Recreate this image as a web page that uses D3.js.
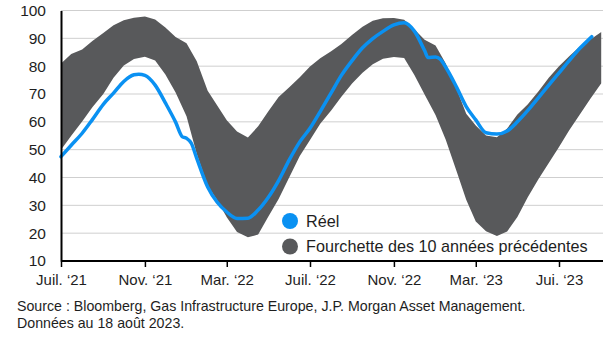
<!DOCTYPE html>
<html><head><meta charset="utf-8">
<script src="https://cdn.jsdelivr.net/npm/d3@7"></script>
<style>
html,body{margin:0;padding:0;background:#fff;}
svg{display:block;font-family:"Liberation Sans",Arial,sans-serif;}
</style></head>
<body>
<svg id="chart" width="611" height="338"></svg>
<script>
// ---- data ----
const bandDates = ["2021-07-01","2021-07-16","2021-08-01","2021-08-16","2021-09-01","2021-09-16","2021-10-01","2021-10-16","2021-11-01","2021-11-16","2021-12-01","2021-12-16","2022-01-01","2022-01-16","2022-02-01","2022-02-15","2022-03-01","2022-03-16","2022-04-01","2022-04-16","2022-05-01","2022-05-16","2022-06-01","2022-06-16","2022-07-01","2022-07-16","2022-08-01","2022-08-16","2022-09-01","2022-09-16","2022-10-01","2022-10-16","2022-11-01","2022-11-16","2022-12-01","2022-12-16","2023-01-01","2023-01-16","2023-02-01","2023-02-15","2023-03-01","2023-03-16","2023-04-01","2023-04-16","2023-05-01","2023-05-16","2023-06-01","2023-06-16","2023-07-01","2023-07-16","2023-08-01","2023-08-16","2023-09-01"];
const bandMax = [81,84.4,86,89,91.9,94.7,96.5,97.4,97.8,96.8,93.9,90.5,88.2,81.8,71.2,65.9,60.6,56.5,54.4,58.4,63.8,68.9,72.5,76,79.9,82.8,85.4,88,91.3,94.2,96.3,97.2,97.3,96.7,93.3,89.5,87.4,81,71.8,62.9,58.7,55.1,54.5,57.6,62.6,66.2,71,75.8,80,83.6,87.2,89.6,92.3];
const bandMin = [50,55,60.1,65.2,70,75.8,80.2,82.6,83.4,82,77,70.5,62,48.4,37,31.8,25.7,20.4,18.5,19.5,26,32.3,40.3,47.7,53.5,59.3,64.1,69,73.9,77.6,80.7,82.7,83.3,82.9,76.8,69.8,62.5,53.6,42.2,32,24.2,20.7,19,20.6,25.8,32.8,39.5,45.2,51,57,62.8,68.3,73.9];
const reelDates = ["2021-07-01","2021-07-16","2021-08-01","2021-08-16","2021-09-01","2021-09-16","2021-10-01","2021-10-16","2021-10-23","2021-11-01","2021-11-16","2021-12-01","2021-12-16","2021-12-26","2022-01-01","2022-01-08","2022-01-16","2022-02-01","2022-02-15","2022-03-01","2022-03-16","2022-04-01","2022-04-16","2022-05-01","2022-05-16","2022-06-01","2022-06-16","2022-07-01","2022-07-16","2022-08-01","2022-08-16","2022-09-01","2022-09-16","2022-10-01","2022-10-16","2022-11-01","2022-11-16","2022-12-01","2022-12-16","2022-12-21","2023-01-01","2023-01-08","2023-01-16","2023-02-01","2023-02-15","2023-03-01","2023-03-16","2023-04-01","2023-04-16","2023-05-01","2023-05-16","2023-06-01","2023-06-16","2023-07-01","2023-07-16","2023-08-01","2023-08-16","2023-08-18"];
const reelValues = [47.5,51.6,55.9,60.8,66.3,70.3,74.5,76.9,77.1,76.7,73.2,66.8,59.9,54.6,54.1,52.3,46.9,36.6,31.1,27.6,25.3,25.4,28.3,32.9,38.9,46.5,52.8,57.7,63.7,70.4,76.7,82.1,86.6,89.9,92.5,94.8,95.6,92.6,85.6,83.1,83.3,82.5,79.6,72.4,65.5,60.7,56.1,55.6,56.7,60,64,68.7,73.2,77.6,82,86.5,90.1,90.6];
const xTickDates = ["2021-07-01","2021-11-01","2022-03-01","2022-07-01","2022-11-01","2023-03-01","2023-07-01"];
const xTickLabels = ["Juil. \u201821","Nov. \u201821","Mar. \u201822","Juil. \u201822","Nov. \u201822","Mar. \u201823","Jui. \u201823"];
const yTicks = [10,20,30,40,50,60,70,80,90,100];
const legendLabels = ["Réel","Fourchette des 10 années précédentes"];
const sourceLines = ["Source : Bloomberg, Gas Infrastructure Europe, J.P. Morgan Asset Management.","Données au 18 août 2023."];

// ---- chart ----
(function () {
const parse = d3.utcParse("%Y-%m-%d");
const svg = d3.select("#chart");
const blue = "#0a91f2", gray = "#58595b", textCol = "#1e1e1e";
const mLeft = 61, mRight = 603, mTop = 10.5, mBottom = 261;

const x = d3.scaleUtc().domain([parse("2021-07-01"), parse("2023-07-01")]).range([mLeft, 559]);
const y = d3.scaleLinear().domain([10, 100]).range([mBottom, mTop]);

// gridlines
svg.append("g").selectAll("line").data(yTicks.filter(v => v > 10)).join("line")
  .attr("x1", mLeft).attr("x2", mRight)
  .attr("y1", d => y(d)).attr("y2", d => y(d))
  .attr("stroke", "#cfcfcf").attr("stroke-width", 1);

// band
const band = bandDates.map((d, i) => ({ date: parse(d), hi: bandMax[i], lo: bandMin[i] }));
svg.append("clipPath").attr("id", "clip").append("rect")
  .attr("x", mLeft).attr("y", 0).attr("width", 601.7 - mLeft).attr("height", mBottom);
svg.append("path").datum(band)
  .attr("clip-path", "url(#clip)")
  .attr("fill", gray)
  .attr("d", d3.area().x(d => x(d.date)).y0(d => y(d.lo)).y1(d => y(d.hi)));

// real line
const reel = reelDates.map((d, i) => ({ date: parse(d), v: reelValues[i] }));
svg.append("path").datum(reel)
  .attr("fill", "none").attr("stroke", blue).attr("stroke-width", 3.5)
  .attr("stroke-linejoin", "round").attr("stroke-linecap", "round")
  .attr("d", d3.line().x(d => x(d.date)).y(d => y(d.v)).curve(d3.curveMonotoneX));

// y axis
const yAxis = svg.append("g").attr("transform", `translate(${mLeft},0)`)
  .call(d3.axisLeft(y).tickValues(yTicks).tickSize(0).tickPadding(15));
yAxis.select(".domain").attr("stroke", "#000").attr("stroke-width", 2);
yAxis.selectAll("text").attr("font-size", 15.5).attr("fill", textCol)
  .attr("font-family", "'Liberation Sans',Arial,sans-serif");

// x axis
const xAxis = svg.append("g").attr("transform", `translate(0,${mBottom})`)
  .call(d3.axisBottom(x).tickValues(xTickDates.map(parse))
    .tickFormat((d, i) => xTickLabels[i]).tickSize(6).tickSizeOuter(0).tickPadding(7));
xAxis.select(".domain").attr("d", `M${mLeft},0H${mRight}`).attr("stroke", "#000").attr("stroke-width", 2);
xAxis.selectAll(".tick line").attr("stroke", "#000").attr("stroke-width", 1.5);
xAxis.selectAll("text").attr("font-size", 15).attr("fill", textCol)
  .attr("font-family", "'Liberation Sans',Arial,sans-serif");

// legend
const leg = svg.append("g");
const legColors = [blue, gray];
legendLabels.forEach((lab, i) => {
  const cy = 221 + i * 25.5;
  leg.append("circle").attr("cx", 290).attr("cy", cy).attr("r", 8).attr("fill", legColors[i]);
  leg.append("text").attr("x", 306).attr("y", cy + 5.5).attr("font-size", 16.2)
    .attr("fill", textCol).text(lab);
});

// source
svg.append("g").selectAll("text").data(sourceLines).join("text")
  .attr("x", 17).attr("y", (d, i) => 311 + i * 17)
  .attr("font-size", 14.2).attr("fill", textCol).text(d => d);
})();
</script>
</body></html>
